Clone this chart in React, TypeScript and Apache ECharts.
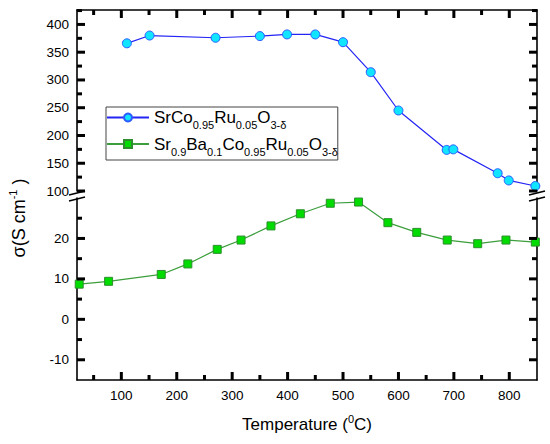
import React, { useEffect, useRef } from "react";
import * as echarts from "echarts";

// SrCo0.95Ru0.05O3-δ (upper panel)
const blueX = [110, 151, 270, 350, 399, 450, 500, 550, 600, 687, 699, 779, 799, 847];
const blueY = [366, 380, 376, 379, 382, 382, 368, 314, 245, 174, 175, 132, 119, 109];
// Sr0.9Ba0.1Co0.95Ru0.05O3-δ (lower panel)
const greenX = [24, 77, 172, 220, 273, 316, 370, 423, 477, 528, 581, 633, 688, 743, 794, 847];
const greenY = [8.7, 9.4, 11.1, 13.7, 17.3, 19.6, 23.1, 26.1, 28.7, 29.0, 23.9, 21.5, 19.6, 18.7, 19.6, 19.1];

const blueName = "SrCo0.95Ru0.05O3-δ";
const greenName = "Sr0.9Ba0.1Co0.95Ru0.05O3-δ";

// tick positions
const xMajor = [100, 200, 300, 400, 500, 600, 700, 800];
const xMinor = [50, 150, 250, 350, 450, 550, 650, 750];
const upperMajor = [100, 150, 200, 250, 300, 350, 400];
const upperMinor = [125, 175, 225, 275, 325, 375, 425];
const lowerMajor = [-10, 0, 10, 20];
const lowerMinor = [-5, 5, 15, 25];

const FONT = "'Liberation Sans', Arial, Helvetica, sans-serif";
const X_MIN = 20, X_MAX = 850;
const U_MIN = 100, U_MAX = 426;
const L_MIN = -15, L_MAX = 30;

function App() {
  const ref = useRef<HTMLDivElement>(null);
  useEffect(() => {
    if (!ref.current) return;
    const chart = echarts.init(ref.current, undefined, { renderer: "svg" });

    const axis = (gridIndex: number, position: string, min: number, max: number, labels?: number[]) => ({
      type: "value",
      gridIndex,
      position,
      min,
      max,
      axisLine: { show: true, onZero: false, lineStyle: { color: "#000", width: 1.6 } },
      axisTick: { show: false },
      axisLabel: labels
        ? { show: true, customValues: labels, color: "#000", fontSize: 13.5, fontFamily: FONT, margin: 8 }
        : { show: false },
      splitLine: { show: false },
    });

    // tick marks placed through the axes' own scales (api.coord)
    const ticks = (
      name: string,
      xAxisIndex: number,
      yAxisIndex: number,
      values: number[],
      dir: "x" | "y",
      edge: number,
      dx: number,
      dy: number
    ) => ({
      type: "custom",
      name,
      xAxisIndex,
      yAxisIndex,
      silent: true,
      clip: false,
      z: 5,
      data: values.map((v) => (dir === "x" ? [v, edge] : [edge, v])),
      renderItem: (params: any, api: any) => {
        const p = api.coord([api.value(0), api.value(1)]);
        return {
          type: "line",
          shape: { x1: p[0], y1: p[1], x2: p[0] + dx, y2: p[1] + dy },
          style: { stroke: "#000", lineWidth: 3 },
        };
      },
    });

    const subRich = {
      m: { fontSize: 17, fontFamily: FONT, color: "#000", lineHeight: 26 },
      s: { fontSize: 11, fontFamily: FONT, color: "#000", lineHeight: 12, verticalAlign: "bottom" },
    };

    const legendFmt = (name: string) => {
      if (name === blueName) return "{m|SrCo}{s|0.95}{m|Ru}{s|0.05}{m|O}{s|3-δ}";
      return "{m|Sr}{s|0.9}{m|Ba}{s|0.1}{m|Co}{s|0.95}{m|Ru}{s|0.05}{m|O}{s|3-δ}";
    };

    const xBottom: any = axis(1, "bottom", X_MIN, X_MAX, xMajor);
    xBottom.name = "{m|Temperature (}{sup|0}{m|C)}";
    xBottom.nameLocation = "middle";
    xBottom.nameGap = 33;
    xBottom.nameTextStyle = {
      rich: {
        m: { fontSize: 17, fontFamily: FONT, color: "#000", lineHeight: 22 },
        sup: { fontSize: 11, fontFamily: FONT, color: "#000", lineHeight: 22, verticalAlign: "top", padding: [0, 0, 8, 0] },
      },
    };

    const MJ = 8, MN = 5;

    const option: any = {
      animation: false,
      backgroundColor: "#fff",
      grid: [
        { left: 77, top: 10, width: 460, height: 181 },
        { left: 77, top: 198, width: 460, height: 182 },
      ],
      xAxis: [axis(0, "top", X_MIN, X_MAX), xBottom],
      yAxis: [
        axis(0, "left", U_MIN, U_MAX, upperMajor),
        axis(0, "right", U_MIN, U_MAX),
        axis(1, "left", L_MIN, L_MAX, lowerMajor),
        axis(1, "right", L_MIN, L_MAX),
      ],
      legend: {
        left: 106,
        top: 107,
        orient: "vertical",
        data: [blueName, greenName],
        itemWidth: 42,
        itemHeight: 10,
        itemGap: 5,
        padding: [2, 0, 3, 0],
        borderColor: "#444",
        borderWidth: 1,
        backgroundColor: "#fff",
        formatter: legendFmt,
        textStyle: { rich: subRich },
      },
      series: [
        {
          name: blueName,
          type: "line",
          xAxisIndex: 0,
          yAxisIndex: 0,
          data: blueX.map((x, i) => [x, blueY[i]]),
          symbol: "circle",
          symbolSize: 9,
          lineStyle: { color: "#2424f5", width: 1.2 },
          itemStyle: { color: "#10e4ff", borderColor: "#2a5cff", borderWidth: 1 },
          z: 3,
        },
        {
          name: greenName,
          type: "line",
          xAxisIndex: 1,
          yAxisIndex: 2,
          data: greenX.map((x, i) => [x, greenY[i]]),
          symbol: "rect",
          symbolSize: 8,
          lineStyle: { color: "#3c9e3c", width: 1.2 },
          itemStyle: { color: "#00dc00", borderColor: "#2e8e2e", borderWidth: 1 },
          z: 3,
        },
        // upper panel ticks
        ticks("tUL", 0, 0, upperMajor, "y", X_MIN, MJ, 0),
        ticks("tULm", 0, 0, upperMinor, "y", X_MIN, MN, 0),
        ticks("tUR", 0, 1, upperMajor, "y", X_MAX, -MJ, 0),
        ticks("tURm", 0, 1, upperMinor, "y", X_MAX, -MN, 0),
        ticks("tTopMajor", 0, 0, xMajor, "x", U_MAX, 0, MJ),
        ticks("tTopMinor", 0, 0, xMinor, "x", U_MAX, 0, MN),
        // lower panel ticks
        ticks("tBotMajor", 1, 2, xMajor, "x", L_MIN, 0, -MJ),
        ticks("tBotMinor", 1, 2, xMinor, "x", L_MIN, 0, -MN),
        ticks("tLL", 1, 2, lowerMajor, "y", X_MIN, MJ, 0),
        ticks("tLLm", 1, 2, lowerMinor, "y", X_MIN, MN, 0),
        ticks("tLR", 1, 3, lowerMajor, "y", X_MAX, -MJ, 0),
        ticks("tLRm", 1, 3, lowerMinor, "y", X_MAX, -MN, 0),
      ],
      graphic: [
        { type: "line", shape: { x1: 69, y1: 195, x2: 85, y2: 191 }, style: { stroke: "#000", lineWidth: 1.5 } },
        { type: "line", shape: { x1: 69, y1: 201, x2: 85, y2: 197 }, style: { stroke: "#000", lineWidth: 1.5 } },
        { type: "line", shape: { x1: 529, y1: 195, x2: 545, y2: 191 }, style: { stroke: "#000", lineWidth: 1.5 } },
        { type: "line", shape: { x1: 529, y1: 201, x2: 545, y2: 197 }, style: { stroke: "#000", lineWidth: 1.5 } },
        {
          type: "text",
          x: 19,
          y: 218,
          rotation: Math.PI / 2,
          style: {
            text: "{m|σ(S cm}{sup|-1}{m| )}",
            align: "center",
            verticalAlign: "middle",
            rich: {
              m: { fontSize: 18, fontFamily: FONT, fill: "#000", lineHeight: 24 },
              sup: { fontSize: 11, fontFamily: FONT, fill: "#000", lineHeight: 24, verticalAlign: "top", padding: [0, 0, 10, 0] },
            },
          },
        },
      ],
    };
    chart.setOption(option);
    return () => chart.dispose();
  }, []);
  return <div ref={ref} style={{ position: "absolute", left: 0, top: 0, width: 550, height: 444, background: "#fff" }} />;
}

export default App;
